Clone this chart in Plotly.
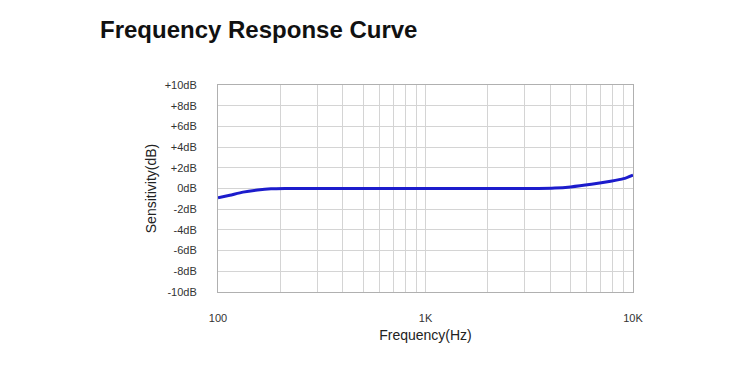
import plotly.graph_objects as go

# Data
freq_hz = [100, 114, 132, 155, 180, 210, 400, 1000, 2000, 3500, 4200, 5000, 6300, 7800, 9000, 10000]
sens_db = [-0.9, -0.65, -0.35, -0.15, -0.03, 0.0, 0.0, 0.0, 0.0, 0.0, 0.04, 0.15, 0.4, 0.7, 0.95, 1.3]

x_grid_vals = [100, 200, 300, 400, 500, 600, 700, 800, 900,
               1000, 2000, 3000, 4000, 5000, 6000, 7000, 8000, 9000, 10000]
x_grid_text = ["100", "", "", "", "", "", "", "", "",
               "1K", "", "", "", "", "", "", "", "", "10K"]
y_vals = [10, 8, 6, 4, 2, 0, -2, -4, -6, -8, -10]
y_text = ["+10dB", "+8dB", "+6dB", "+4dB", "+2dB", "0dB", "-2dB", "-4dB", "-6dB", "-8dB", "-10dB"]

FONT = "Liberation Sans, Arial, sans-serif"

fig = go.Figure()
fig.add_trace(go.Scatter(
    x=freq_hz, y=sens_db, mode="lines",
    line=dict(color="#1c1ccc", width=3, shape="spline", smoothing=0.6),
    showlegend=False,
))

fig.update_layout(
    width=750, height=375,
    margin=dict(l=210, r=125, t=77, b=91),
    paper_bgcolor="white", plot_bgcolor="white",
    font=dict(family=FONT, color="#222222"),
    title=dict(text="<b>Frequency Response Curve</b>", x=92/750, xanchor="left",
               y=1 - 22/375, yanchor="middle",
               font=dict(size=24, color="#111111", family=FONT)),
)

fig.update_xaxes(
    type="log", range=[2, 4],
    tickvals=x_grid_vals, ticktext=x_grid_text,
    showgrid=True, gridcolor="#d4d4d4", gridwidth=1,
    showline=True, linecolor="#b0b0b0", linewidth=1, mirror=True,
    ticks="", ticklabelstandoff=16,
    tickfont=dict(size=11, color="#333333"),
    title=dict(text="Frequency(Hz)", font=dict(size=14, color="#222222"), standoff=6),
    zeroline=False,
)
fig.update_yaxes(
    range=[-10, 10],
    tickvals=y_vals, ticktext=y_text,
    showgrid=True, gridcolor="#d4d4d4", gridwidth=1,
    showline=True, linecolor="#b0b0b0", linewidth=1, mirror=True,
    ticks="", ticklabelstandoff=18,
    tickfont=dict(size=11, color="#333333"),
    title=dict(text="Sensitivity(dB)", font=dict(size=14, color="#222222"), standoff=4),
    zeroline=False,
)

fig.write_html("out.html")
